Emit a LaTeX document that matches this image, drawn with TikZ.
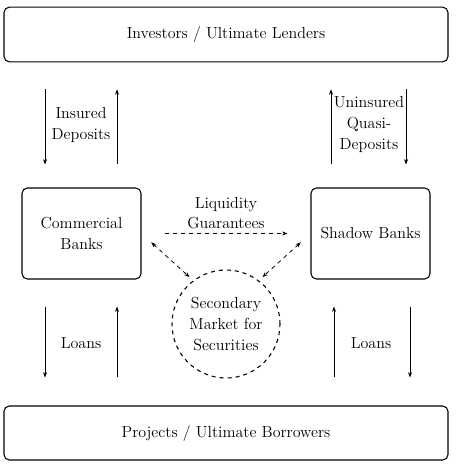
\documentclass[tikz,border=0pt]{standalone}
\usetikzlibrary{arrows.meta,calc}
\begin{document}
\begin{tikzpicture}[x=0.75pt,y=-0.75pt,
 every node/.style={font=\fontsize{12}{15.4}\selectfont, align=center, inner sep=0pt},
 bigbox/.style={draw, rounded corners=4pt, line width=0.8pt, minimum width=333pt, minimum height=41pt},
 bankbox/.style={draw, rounded corners=4pt, line width=0.8pt, minimum width=89.25pt, minimum height=68.25pt},
 flow/.style={-{Stealth[length=4pt,width=3pt]}, line width=0.5pt},
 dflow/.style={dashed, line width=0.6pt, -{Stealth[length=4pt,width=3pt]}},
 ddflow/.style={dashed, line width=0.6pt, {Stealth[length=4pt,width=3pt]}-{Stealth[length=4pt,width=3pt]}}]
\useasboundingbox (0,0) rectangle (457,466);
\node[bigbox] (top) at (226,34.5) {Investors / Ultimate Lenders};
\node[bankbox] (cb) at (81.5,233.5) {Commercial\\Banks};
\node[bankbox] (sb) at (370.5,233.5) {Shadow Banks};
\node[bigbox, minimum height=40.5pt] (bot) at (226,433) {Projects / Ultimate Borrowers};
\node[draw, circle, dashed, line width=0.8pt, minimum size=81pt] (mkt) at (226,324) {Secondary\\Market for\\Securities};
\coordinate (xa) at (45,0);
\coordinate (xb) at (117,0);
\coordinate (xc) at (331,0);
\coordinate (xd) at (406,0);
\coordinate (xe) at (334,0);
\coordinate (xf) at (410,0);
% top-left
\draw[flow, shorten <=20.25pt, shorten >=17.25pt] (top.south -| xa) -- (cb.north -| xa);
\draw[flow, shorten <=17.25pt, shorten >=20.25pt] (cb.north -| xb) -- (top.south -| xb);
\node (ins) at (81,125) {Insured\\Deposits};
% top-right
\draw[flow, shorten <=17.25pt, shorten >=20.25pt] (sb.north -| xc) -- (top.south -| xc);
\draw[flow, shorten <=20.25pt, shorten >=17.25pt] (top.south -| xd) -- (sb.north -| xd);
\node (unins) at (369,124.5) {Uninsured\\Quasi-\\Deposits};
% bottom-left
\draw[flow, shorten <=20.25pt, shorten >=21pt] (cb.south -| xa) -- (bot.north -| xa);
\draw[flow, shorten <=21pt, shorten >=20.25pt] (bot.north -| xb) -- (cb.south -| xb);
\node (loanl) at (81,343) {Loans};
% bottom-right
\draw[flow, shorten <=21pt, shorten >=20.25pt] (bot.north -| xe) -- (sb.south -| xe);
\draw[flow, shorten <=20.25pt, shorten >=21pt] (sb.south -| xf) -- (bot.north -| xf);
\node (loanr) at (371,343) {Loans};
% liquidity
\node (lq) at (226,213) {Liquidity\\Guarantees};
\draw[dflow, shorten <=17.25pt, shorten >=17.25pt] (cb.east) -- (sb.west);
\draw[ddflow, shorten <=9.75pt, shorten >=3.75pt] (cb.east) -- (mkt.127);
\draw[ddflow, shorten <=9.75pt, shorten >=3.75pt] (sb.west) -- (mkt.53);
\end{tikzpicture}
\end{document}
